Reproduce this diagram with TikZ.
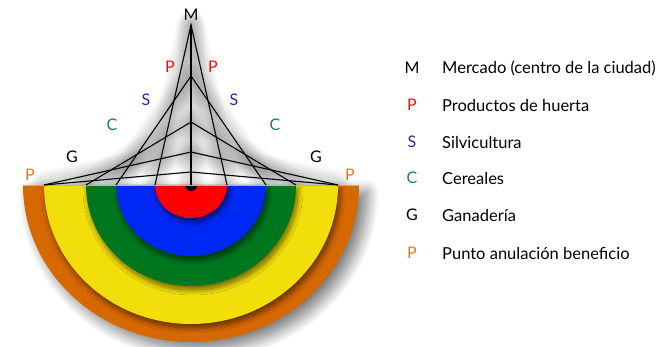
\documentclass[tikz,border=0pt]{standalone}
\usepackage{fontspec}
\setmainfont{Lato}
\usetikzlibrary{shadows.blur}
\definecolor{cOr}{RGB}{214,104,0}
\definecolor{cYe}{RGB}{242,222,10}
\definecolor{cGr}{RGB}{0,118,30}
\definecolor{cBl}{RGB}{0,40,245}
\definecolor{cRe}{RGB}{255,0,0}
\definecolor{tRe}{RGB}{232,20,20}
\definecolor{tBl}{RGB}{30,45,160}
\definecolor{tGr}{RGB}{30,130,60}
\definecolor{tOr}{RGB}{225,120,40}
\begin{document}
\begin{tikzpicture}[x=1pt,y=1pt,
  band/.style={blur shadow={shadow xshift=2pt,shadow yshift=-4pt,shadow blur radius=5pt,shadow blur steps=12,shadow opacity=55}},
  outerband/.style={blur shadow={shadow xshift=8pt,shadow yshift=-7pt,shadow blur radius=12pt,shadow blur steps=16,shadow opacity=55}},
  lbl/.style={font=\fontsize{16}{16}\selectfont, inner sep=0pt},
  leg/.style={font=\fontsize{16.5}{16.5}\selectfont, anchor=west, inner sep=0pt},
  web/.style={line width=1.1pt, black},
  glow/.style={line width=#1, black, opacity=0.018, line cap=round, line join=round}
]
\useasboundingbox (0,0) rectangle (666,346);
% coordinates
\coordinate (M) at (191,321);
\coordinate (k1) at (191,270);
\coordinate (k2) at (191,224);
\coordinate (k3) at (191,194);
\coordinate (k4) at (191,174);
\coordinate (O) at (191,161);
\coordinate (lR) at (155,161);
\coordinate (lB) at (116,161);
\coordinate (lG) at (86,161);
\coordinate (lY) at (44,161);
\coordinate (rR) at (227,161);
\coordinate (rB) at (266,161);
\coordinate (rG) at (296,161);
\coordinate (rY) at (338,161);
% glow around web
\foreach \w in {28,25,22,19,16,13,10,7,4}{
  \draw[glow=\w pt] (lR) -- (M) -- (rR);
  \draw[glow=\w pt] (lB) -- (k1) -- (rB);
  \draw[glow=\w pt] (lG) -- (k2) -- (rG);
  \draw[glow=\w pt] (lY) -- (k3) -- (rY);
  \draw[glow=\w pt] (M) -- (O);
}
% bands
\path[outerband, fill=cOr] (23,161) arc[start angle=180,end angle=360,x radius=168,y radius=157] -- cycle;
\path[band, fill=cYe] (44,161) arc[start angle=180,end angle=360,x radius=147,y radius=139] -- cycle;
\path[band, fill=cGr] (86,161) arc[start angle=180,end angle=360,x radius=105,y radius=101] -- cycle;
\path[band, fill=cBl] (116,161) arc[start angle=180,end angle=360,x radius=75,y radius=71] -- cycle;
\path[band, fill=cRe] (155,161) arc[start angle=180,end angle=360,x radius=36,y radius=33] -- cycle;
\fill[black] (185,161) arc[start angle=180,end angle=360,radius=6] -- cycle;
\draw[gray!60, line width=0.6pt] (23,161) -- (359,161);
% web lines
\draw[web] (lR) -- (M) -- (rR);
\draw[web] (lB) -- (k1) -- (rB);
\draw[web] (lG) -- (k2) -- (rG);
\draw[web] (lY) -- (k3) -- (rY);
\draw[web] (lY) -- (k4) -- (rY);
\draw[web] (M) -- (O);
% labels on diagram
\node[lbl] (tM) at (191,331) {M};
\node[lbl, text=tRe] (tP1) at (170,279) {P};
\node[lbl, text=tRe] (tP2) at (213,279) {P};
\node[lbl, text=tBl] (tS1) at (146,246) {S};
\node[lbl, text=tBl] (tS2) at (234,246) {S};
\node[lbl, text=tGr] (tC1) at (112,221) {C};
\node[lbl, text=tGr] (tC2) at (275,221) {C};
\node[lbl] (tG1) at (72,189) {G};
\node[lbl] (tG2) at (316,189) {G};
\node[lbl, text=tOr] (tO1) at (30,171) {P};
\node[lbl, text=tOr] (tO2) at (350,171) {P};
% legend
\node[lbl] (kM) at (412,278) {M};
\node[lbl, text=tRe] (kP) at (412,241) {P};
\node[lbl, text=tBl] (kS) at (412,204) {S};
\node[lbl, text=tGr] (kC) at (412,168) {C};
\node[lbl] (kG) at (412,131) {G};
\node[lbl, text=tOr] (kO) at (412,93) {P};
\node[leg] (dM) at (442,278) {Mercado (centro de la ciudad)};
\node[leg] (dP) at (442,241) {Productos de huerta};
\node[leg] (dS) at (442,204) {Silvicultura};
\node[leg] (dC) at (442,168) {Cereales};
\node[leg] (dG) at (442,131) {Ganadería};
\node[leg] (dO) at (442,93) {Punto anulación beneficio};
\end{tikzpicture}
\end{document}
